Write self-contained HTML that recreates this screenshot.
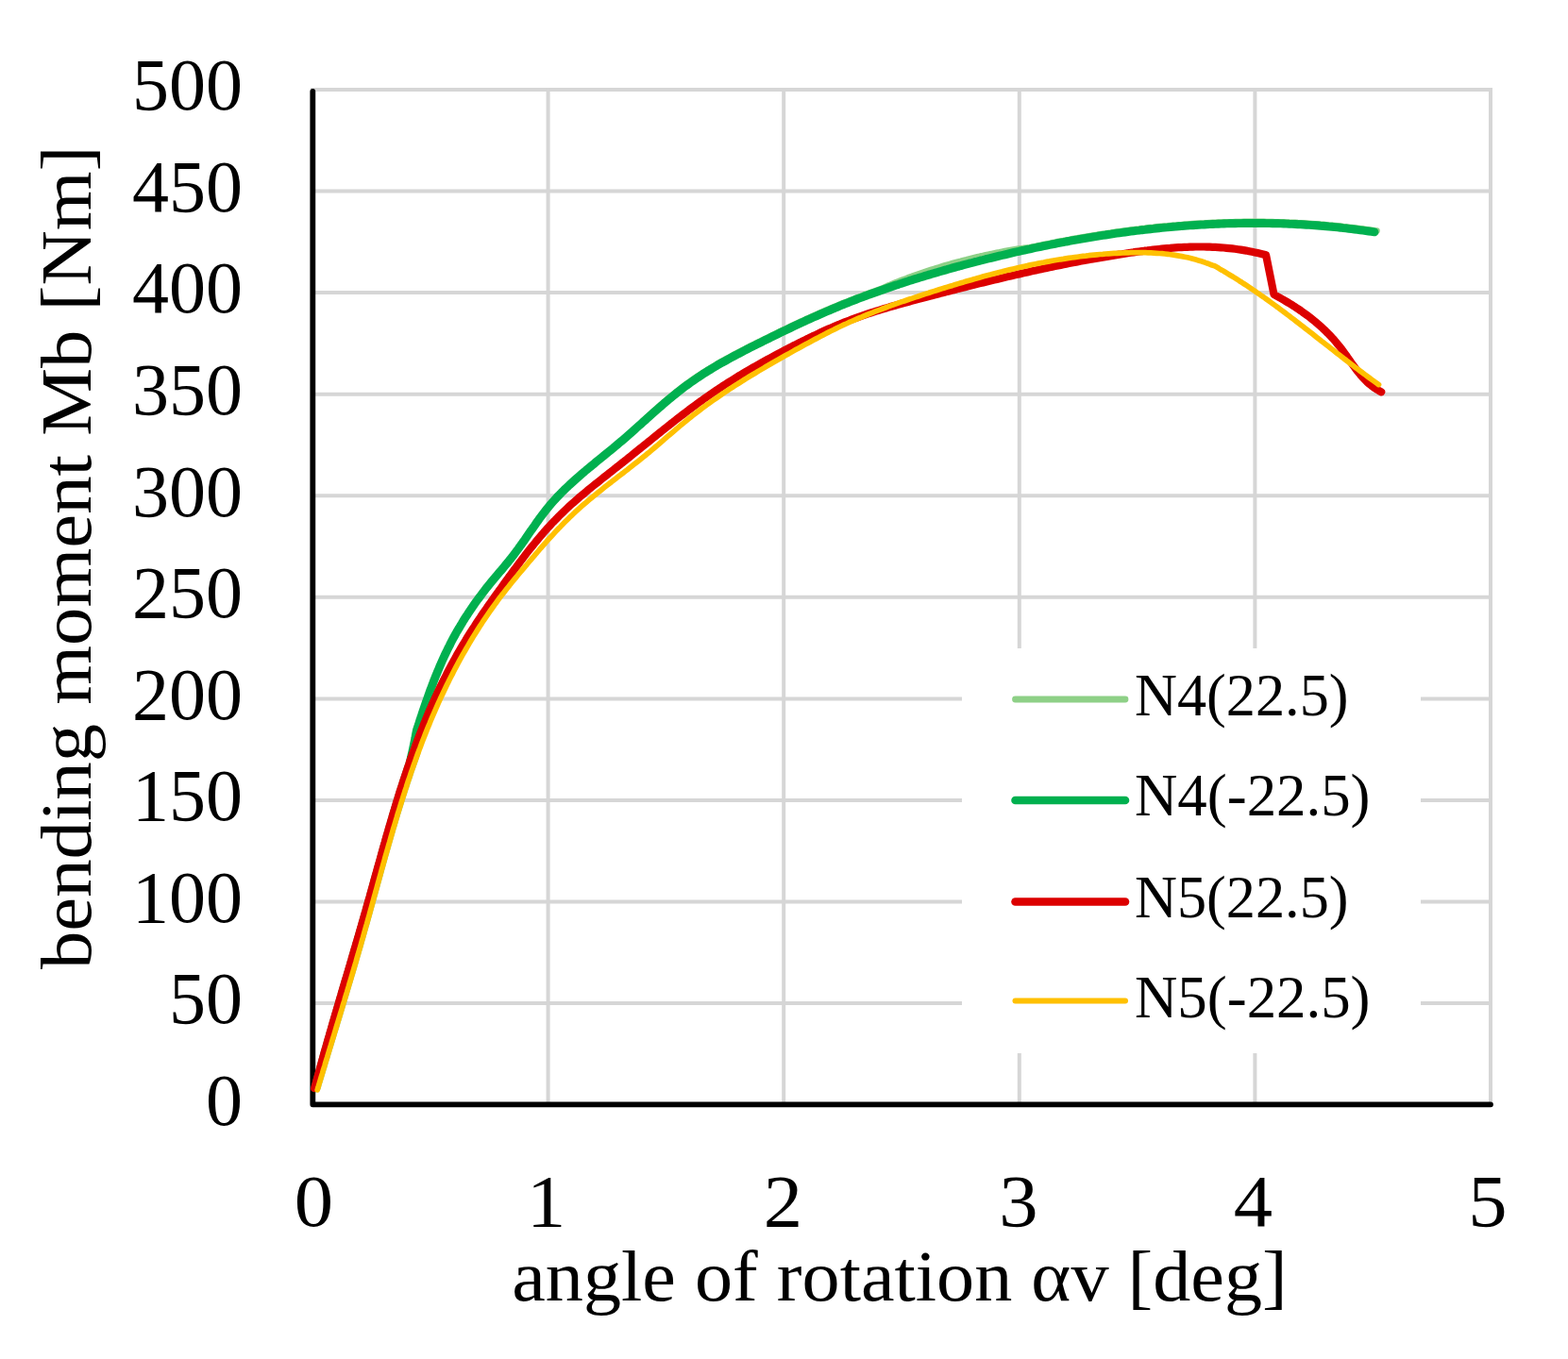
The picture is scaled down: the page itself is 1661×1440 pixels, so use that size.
<!DOCTYPE html>
<html><head><meta charset="utf-8"><title>bending moment chart</title>
<style>
html,body{margin:0;padding:0;background:#fff;}
body{width:1661px;height:1440px;overflow:hidden;}
svg{display:block;}
text{font-family:"Liberation Serif","DejaVu Serif",serif;fill:#000;}
.tk{font-size:78px;}
.lg{font-size:64px;}
.ti{font-size:76px;}
</style></head>
<body>
<svg width="1661" height="1440" viewBox="0 0 1661 1440">
<rect width="1661" height="1440" fill="#fff"/>
<g stroke="#d6d6d6" stroke-width="4" stroke-linecap="square">
<line x1="331.0" y1="95.0" x2="1579.0" y2="95.0"/>
<line x1="331.0" y1="202.6" x2="1579.0" y2="202.6"/>
<line x1="331.0" y1="310.1" x2="1579.0" y2="310.1"/>
<line x1="331.0" y1="417.7" x2="1579.0" y2="417.7"/>
<line x1="331.0" y1="525.2" x2="1579.0" y2="525.2"/>
<line x1="331.0" y1="632.8" x2="1579.0" y2="632.8"/>
<line x1="331.0" y1="740.4" x2="1579.0" y2="740.4"/>
<line x1="331.0" y1="847.9" x2="1579.0" y2="847.9"/>
<line x1="331.0" y1="955.5" x2="1579.0" y2="955.5"/>
<line x1="331.0" y1="1063.0" x2="1579.0" y2="1063.0"/>
<line x1="580.6" y1="95.0" x2="580.6" y2="1170.6"/>
<line x1="830.2" y1="95.0" x2="830.2" y2="1170.6"/>
<line x1="1079.8" y1="95.0" x2="1079.8" y2="1170.6"/>
<line x1="1329.4" y1="95.0" x2="1329.4" y2="1170.6"/>
<line x1="1579.0" y1="95.0" x2="1579.0" y2="1170.6"/>
</g>
<rect x="1019" y="687" width="486" height="429" fill="#fff"/>
<g stroke="#000" stroke-width="5.8" stroke-linecap="round" stroke-linejoin="round" fill="none">
<polyline points="331.3,96.8 331.3,1170.3 1579.0,1170.3"/>
</g>
<g fill="none" stroke-linejoin="round" stroke-linecap="round">
<polyline points="336.3,1152.9 337.1,1150.0 338.0,1147.1 338.9,1144.2 339.8,1141.3 340.6,1138.4 341.5,1135.5 342.4,1132.6 343.3,1129.7 344.1,1126.8 345.0,1123.8 345.9,1120.9 346.8,1118.0 347.7,1115.1 348.5,1112.2 349.4,1109.3 350.3,1106.4 351.2,1103.5 352.1,1100.6 352.9,1097.7 353.8,1094.8 354.7,1092.0 355.6,1089.1 356.5,1086.2 357.3,1083.3 358.2,1080.4 359.1,1077.5 360.0,1074.6 360.8,1071.7 361.7,1068.8 362.6,1065.9 363.5,1063.0 364.3,1060.1 365.2,1057.2 366.1,1054.3 366.9,1051.4 367.8,1048.5 368.7,1045.6 369.5,1042.7 370.4,1039.9 371.2,1037.0 372.1,1034.1 373.0,1031.2 373.8,1028.3 374.7,1025.4 375.5,1022.5 376.4,1019.6 377.2,1016.7 378.0,1013.8 378.9,1010.9 379.7,1008.0 380.6,1005.1 381.4,1002.3 382.2,999.4 383.0,996.5 383.9,993.6 384.7,990.7 385.5,987.8 386.3,984.9 387.1,982.0 388.0,979.1 388.8,976.2 389.6,973.3 390.4,970.4 391.2,967.5 392.0,964.6 392.8,961.7 393.6,958.8 394.4,956.0 395.2,953.1 396.0,950.2 396.8,947.3 397.6,944.4 398.4,941.5 399.2,938.6 400.0,935.7 400.8,932.8 401.6,929.9 402.4,927.0 403.2,924.1 404.0,921.2 404.8,918.3 405.6,915.4 406.4,912.5 407.2,909.6 408.0,906.7 408.8,903.8 409.6,900.9 410.5,898.0 411.3,895.1 412.1,892.2 413.0,889.3 413.8,886.4 414.6,883.5 415.5,880.6 416.3,877.7 417.2,874.8 418.0,871.9 418.9,869.0 419.8,866.1 420.6,863.3 421.5,860.4 422.4,857.5 423.3,854.6 424.2,851.7 425.1,848.8 426.0,845.9 426.9,843.0 427.9,840.1 428.8,837.2 429.7,834.3 430.7,831.5 431.6,828.6 432.6,825.7 433.6,822.8 434.5,819.9 435.5,817.0 436.5,814.2 437.5,811.3 438.6,808.4 439.6,805.5 440.6,802.6 441.6,799.7 442.3,796.9 442.8,794.0 443.4,791.1 443.8,788.2 444.2,785.4 444.5,782.5 444.7,779.6 444.8,776.8 445.0,773.9 445.2,771.0 445.4,768.2 445.6,765.3 445.8,762.4 446.1,759.6 447.0,756.7 448.0,753.8 448.9,751.0 449.9,748.1 450.9,745.3 451.9,742.5 452.9,739.6 453.9,736.8 454.9,733.9 455.9,731.1 457.0,728.3 458.1,725.5 459.1,722.7 460.2,719.9 461.3,717.1 462.5,714.3 463.6,711.5 464.8,708.7 465.9,706.0 467.1,703.2 468.3,700.5 469.6,697.7 470.8,695.0 472.1,692.3 473.4,689.6 474.7,686.9 476.1,684.2 477.4,681.5 478.8,678.8 480.2,676.2 481.7,673.5 483.1,670.9 484.6,668.3 486.2,665.7 487.7,663.1 489.3,660.5 490.8,657.9 492.4,655.3 494.1,652.8 495.7,650.3 497.4,647.8 499.1,645.3 500.8,642.8 502.5,640.3 504.2,637.8 506.0,635.4 507.8,633.0 509.6,630.6 511.4,628.2 513.2,625.8 515.0,623.4 516.9,621.1 518.8,618.7 520.7,616.4 522.6,614.1 524.5,611.8 526.4,609.6 528.3,607.3 530.3,605.1 532.2,602.8 534.1,600.5 536.0,598.2 537.9,596.0 539.7,593.6 541.6,591.3 543.4,589.0 545.2,586.6 547.0,584.2 548.8,581.8 550.5,579.4 552.3,577.0 554.0,574.5 555.8,572.1 557.5,569.6 559.2,567.1 560.9,564.6 562.6,562.1 564.4,559.6 566.1,557.2 567.8,554.7 569.6,552.2 571.3,549.7 573.1,547.3 574.9,544.9 576.8,542.5 578.6,540.1 580.5,537.8 582.4,535.5 584.4,533.2 586.4,530.9 588.4,528.7 590.4,526.5 592.5,524.4 594.6,522.2 596.7,520.1 598.8,518.0 601.0,516.0 603.2,513.9 605.4,511.9 607.6,509.9 609.8,507.9 612.1,505.9 614.4,503.9 616.6,501.9 618.9,500.0 621.2,498.0 623.5,496.1 625.8,494.2 628.2,492.3 630.5,490.3 632.8,488.4 635.2,486.5 637.5,484.6 639.8,482.7 642.2,480.8 644.5,478.9 646.9,477.0 649.2,475.1 651.5,473.1 653.8,471.2 656.2,469.2 658.5,467.3 660.8,465.3 663.1,463.3 665.3,461.4 667.6,459.4 669.9,457.4 672.1,455.4 674.4,453.3 676.6,451.3 678.9,449.3 681.1,445.8 683.4,443.8 685.6,441.8 687.9,439.7 690.1,437.7 692.4,435.7 694.7,433.7 696.9,431.7 699.2,429.7 701.5,427.8 703.7,425.8 706.0,423.9 708.3,421.9 710.6,420.0 712.9,418.1 715.3,416.2 717.6,414.3 720.0,412.5 722.3,410.6 724.7,408.8 727.1,407.0 729.5,405.3 732.0,403.5 734.4,401.8 736.9,400.1 739.4,398.4 741.9,396.8 744.4,395.1 746.9,393.5 749.4,391.9 752.0,390.4 754.6,388.8 757.1,387.3 759.7,385.7 762.3,384.2 764.9,382.7 767.6,381.3 770.2,379.8 772.8,378.4 775.5,376.9 778.1,375.5 780.8,374.1 783.5,372.7 786.1,371.3 788.8,369.9 791.5,368.5 794.2,367.1 796.9,365.8 799.6,364.4 802.3,363.1 805.0,361.7 807.7,360.4 810.4,359.0 813.1,357.7 815.8,356.4 818.5,355.0 821.2,353.7 823.9,352.4 826.6,351.1 829.3,349.8 832.0,348.5 834.7,347.2 837.5,345.9 840.2,344.6 842.9,343.3 845.6,342.0 848.4,340.7 851.1,339.5 853.8,338.2 856.6,337.0 859.3,335.7 862.0,334.5 864.8,333.3 867.5,332.1 870.3,330.9 873.0,329.7 875.8,328.5 878.6,327.3 881.3,326.1 884.1,325.0 886.9,323.8 889.6,322.7 892.4,321.5 895.2,320.4 898.0,319.3 900.8,318.2 903.6,317.1 906.4,316.0 909.2,314.9 912.0,313.9 914.8,312.8 917.6,311.8 920.4,310.7 923.2,309.7 926.1,308.7 928.9,307.7 931.7,306.7 934.5,305.7 937.4,304.3 940.2,303.0 943.1,301.8 945.9,300.6 948.7,299.5 951.6,298.3 954.4,297.2 957.3,296.1 960.2,295.1 963.0,294.0 965.9,293.0 968.7,291.9 971.6,290.9 974.5,289.9 977.4,288.9 980.2,288.0 983.1,287.0 986.0,286.1 988.9,285.2 991.8,284.3 994.7,283.4 997.5,282.5 1000.4,281.6 1003.3,280.8 1006.2,280.0 1009.1,279.1 1012.0,278.3 1014.9,277.5 1017.8,276.8 1020.7,276.0 1023.6,275.3 1026.6,274.5 1029.5,273.8 1032.4,273.1 1035.3,272.4 1038.2,271.7 1041.1,271.1 1044.1,270.4 1047.0,269.8 1049.9,269.2 1052.8,268.5 1055.8,267.9 1058.7,267.4 1061.6,266.8 1064.5,266.2 1067.5,265.7 1070.4,265.2 1073.4,264.7 1076.3,264.2 1079.2,263.7 1082.2,263.3 1085.1,262.9 1088.1,262.6 1091.0,262.3 1093.9,261.6 1096.9,261.0 1099.8,260.4 1102.8,259.8 1105.7,259.2 1108.7,258.6 1111.7,258.0 1114.6,257.4 1117.6,256.8 1120.5,256.2 1123.5,255.6 1126.4,255.1 1129.4,254.5 1132.4,254.0 1135.3,253.4 1138.3,252.9 1141.3,252.4 1144.2,251.8 1147.2,251.3 1150.2,250.8 1153.1,250.3 1156.1,249.8 1159.1,249.3 1162.1,248.9 1165.0,248.4 1168.0,247.9 1171.0,247.5 1174.0,247.0 1176.9,246.6 1179.9,246.1 1182.9,245.7 1185.9,245.3 1188.9,244.9 1191.8,244.5 1194.8,244.1 1197.8,243.7 1200.8,243.3 1203.8,242.9 1206.8,242.6 1209.8,242.2 1212.8,241.9 1215.7,241.5 1218.7,241.2 1221.7,240.9 1224.7,240.5 1227.7,240.2 1230.7,239.9 1233.7,239.6 1236.7,239.4 1239.7,239.1 1242.7,238.8 1245.7,238.6 1248.7,238.3 1251.7,238.1 1254.7,237.8 1257.7,237.6 1260.7,237.4 1263.7,237.2 1266.7,237.0 1269.7,236.8 1272.7,236.6 1275.7,236.5 1278.7,236.3 1281.7,236.1 1284.7,236.0 1287.7,235.9 1290.7,235.7 1293.7,235.6 1296.7,235.5 1299.7,235.4 1302.7,235.3 1305.7,235.3 1308.7,235.2 1311.7,235.1 1314.7,235.1 1317.7,235.0 1320.7,235.0 1323.7,235.0 1326.7,235.0 1329.7,235.0 1332.7,235.0 1335.7,235.0 1338.7,235.0 1341.8,235.1 1344.8,235.1 1347.8,235.2 1350.8,235.3 1353.8,235.3 1356.8,235.4 1359.8,235.5 1362.8,235.6 1365.8,235.8 1368.8,235.9 1371.8,236.0 1374.8,236.2 1377.8,236.3 1380.8,236.5 1383.8,236.7 1386.8,236.9 1389.9,237.1 1392.9,237.3 1395.9,237.5 1398.9,237.8 1401.9,238.0 1404.9,238.3 1407.9,238.6 1410.9,238.8 1413.9,239.1 1416.9,239.4 1419.9,239.7 1422.9,240.1 1425.9,240.4 1428.9,240.8 1431.9,241.1 1434.9,241.5 1437.9,241.9 1440.9,242.3 1443.9,242.7 1446.9,243.1 1449.9,243.5 1452.9,243.9 1455.9,244.4 1458.4,244.7" stroke="#8ed087" stroke-width="6.8"/>
<polyline points="333.9,1152.9 334.6,1150.0 335.4,1147.1 336.2,1144.2 337.0,1141.3 337.8,1138.4 338.6,1135.5 339.4,1132.6 340.2,1129.7 341.0,1126.8 341.8,1123.8 342.6,1120.9 343.4,1118.0 344.2,1115.1 345.1,1112.2 345.9,1109.3 346.7,1106.4 347.5,1103.5 348.4,1100.6 349.2,1097.7 350.0,1094.8 350.9,1092.0 351.7,1089.1 352.6,1086.2 353.4,1083.3 354.2,1080.4 355.1,1077.5 355.9,1074.6 356.8,1071.7 357.6,1068.8 358.5,1065.9 359.3,1063.0 360.2,1060.1 361.0,1057.2 361.9,1054.3 362.7,1051.4 363.6,1048.5 364.4,1045.6 365.3,1042.7 366.1,1039.9 367.0,1037.0 367.9,1034.1 368.7,1031.2 369.6,1028.3 370.4,1025.4 371.3,1022.5 372.1,1019.6 373.0,1016.7 373.8,1013.8 374.7,1010.9 375.5,1008.0 376.4,1005.1 377.2,1002.3 378.1,999.4 378.9,996.5 379.8,993.6 380.6,990.7 381.4,987.8 382.3,984.9 383.1,982.0 384.0,979.1 384.8,976.2 385.6,973.3 386.4,970.4 387.3,967.5 388.1,964.6 388.9,961.7 389.7,958.8 390.6,956.0 391.4,953.1 392.2,950.2 393.0,947.3 393.8,944.4 394.6,941.5 395.4,938.6 396.2,935.7 397.0,932.8 397.8,929.9 398.6,927.0 399.5,924.1 400.3,921.2 401.1,918.3 401.9,915.4 402.7,912.5 403.5,909.6 404.3,906.7 405.1,903.8 405.9,900.9 406.7,898.0 407.6,895.1 408.4,892.2 409.2,889.3 410.0,886.4 410.9,883.5 411.7,880.6 412.5,877.7 413.4,874.8 414.2,871.9 415.1,869.0 415.9,866.1 416.8,863.3 417.6,860.4 418.5,857.5 419.4,854.6 420.2,851.7 421.1,848.8 422.0,845.9 422.9,843.0 423.8,840.1 424.7,837.2 425.6,834.3 426.6,831.5 427.5,828.6 428.4,825.7 429.4,822.8 430.4,819.9 431.3,817.0 432.3,814.2 433.3,811.3 434.1,808.4 434.8,805.5 435.5,802.6 436.1,799.7 436.8,796.9 437.4,794.0 438.0,791.1 438.6,788.2 439.2,785.4 439.8,782.5 440.3,779.6 440.8,776.8 441.4,773.9 442.3,771.0 443.3,768.2 444.2,765.3 445.1,762.4 446.1,759.6 447.0,756.7 448.0,753.8 448.9,751.0 449.9,748.1 450.9,745.3 451.9,742.5 452.9,739.6 453.9,736.8 454.9,733.9 455.9,731.1 457.0,728.3 458.1,725.5 459.1,722.7 460.2,719.9 461.3,717.1 462.5,714.3 463.6,711.5 464.8,708.7 465.9,706.0 467.1,703.2 468.3,700.5 469.6,697.7 470.8,695.0 472.1,692.3 473.4,689.6 474.7,686.9 476.1,684.2 477.4,681.5 478.8,678.8 480.2,676.2 481.7,673.5 483.1,670.9 484.6,668.3 486.2,665.7 487.7,663.1 489.3,660.5 490.8,657.9 492.4,655.3 494.1,652.8 495.7,650.3 497.4,647.8 499.1,645.3 500.8,642.8 502.5,640.3 504.2,637.8 506.0,635.4 507.8,633.0 509.6,630.6 511.4,628.2 513.2,625.8 515.0,623.4 516.9,621.1 518.8,618.7 520.7,616.4 522.6,614.1 524.5,611.8 526.4,609.6 528.3,607.3 530.3,605.1 532.2,602.8 534.1,600.5 536.0,598.2 537.9,596.0 539.7,593.6 541.6,591.3 543.4,589.0 545.2,586.6 547.0,584.2 548.8,581.8 550.5,579.4 552.3,577.0 554.0,574.5 555.8,572.1 557.5,569.6 559.2,567.1 560.9,564.6 562.6,562.1 564.4,559.6 566.1,557.2 567.8,554.7 569.6,552.2 571.3,549.7 573.1,547.3 574.9,544.9 576.8,542.5 578.6,540.1 580.5,537.8 582.4,535.5 584.4,533.2 586.4,530.9 588.4,528.7 590.4,526.5 592.5,524.4 594.6,522.2 596.7,520.1 598.8,518.0 601.0,516.0 603.2,513.9 605.4,511.9 607.6,509.9 609.8,507.9 612.1,505.9 614.4,503.9 616.6,501.9 618.9,500.0 621.2,498.0 623.5,496.1 625.8,494.2 628.2,492.3 630.5,490.3 632.8,488.4 635.2,486.5 637.5,484.6 639.8,482.7 642.2,480.8 644.5,478.9 646.9,477.0 649.2,475.1 651.5,473.1 653.8,471.2 656.2,469.2 658.5,467.3 660.8,465.3 663.1,463.3 665.3,461.4 667.6,459.4 669.9,457.4 672.1,455.4 674.4,453.3 676.6,451.3 678.9,449.3 681.1,447.3 683.4,445.3 685.6,443.3 687.9,441.2 690.1,439.2 692.4,437.2 694.7,435.2 696.9,433.2 699.2,431.2 701.5,429.3 703.7,427.3 706.0,425.4 708.3,423.4 710.6,421.5 712.9,419.6 715.3,417.7 717.6,415.8 720.0,414.0 722.3,412.1 724.7,410.3 727.1,408.5 729.5,406.8 732.0,405.0 734.4,403.3 736.9,401.6 739.4,399.9 741.9,398.3 744.4,396.6 746.9,395.0 749.4,393.4 752.0,391.9 754.6,390.3 757.1,388.8 759.7,387.2 762.3,385.7 764.9,384.2 767.6,382.8 770.2,381.3 772.8,379.9 775.5,378.4 778.1,377.0 780.8,375.6 783.5,374.2 786.1,372.8 788.8,371.4 791.5,370.0 794.2,368.6 796.9,367.3 799.6,365.9 802.3,364.6 805.0,363.2 807.7,361.9 810.4,360.5 813.1,359.2 815.8,357.9 818.5,356.5 821.2,355.2 823.9,353.9 826.6,352.6 829.3,351.3 832.0,350.0 834.7,348.7 837.5,347.4 840.2,346.1 842.9,344.8 845.6,343.5 848.4,342.2 851.1,341.0 853.8,339.7 856.6,338.5 859.3,337.2 862.0,336.0 864.8,334.8 867.5,333.6 870.3,332.4 873.0,331.2 875.8,330.0 878.6,328.8 881.3,327.6 884.1,326.5 886.9,325.3 889.6,324.2 892.4,323.0 895.2,321.9 898.0,320.8 900.8,319.7 903.6,318.6 906.4,317.5 909.2,316.4 912.0,315.4 914.8,314.3 917.6,313.3 920.4,312.2 923.2,311.2 926.1,310.2 928.9,309.2 931.7,308.2 934.5,307.2 937.4,306.2 940.2,305.2 943.1,304.2 945.9,303.3 948.7,302.3 951.6,301.4 954.4,300.4 957.3,299.5 960.2,298.6 963.0,297.6 965.9,296.7 968.7,295.8 971.6,294.9 974.5,294.0 977.4,293.2 980.2,292.3 983.1,291.4 986.0,290.6 988.9,289.7 991.8,288.9 994.7,288.0 997.5,287.2 1000.4,286.4 1003.3,285.6 1006.2,284.7 1009.1,283.9 1012.0,283.1 1014.9,282.3 1017.8,281.6 1020.7,280.8 1023.6,280.0 1026.6,279.2 1029.5,278.5 1032.4,277.7 1035.3,277.0 1038.2,276.2 1041.1,275.5 1044.1,274.7 1047.0,274.0 1049.9,273.3 1052.8,272.6 1055.8,271.9 1058.7,271.2 1061.6,270.5 1064.5,269.8 1067.5,269.1 1070.4,268.4 1073.4,267.7 1076.3,267.0 1079.2,266.4 1082.2,265.7 1085.1,265.1 1088.1,264.4 1091.0,263.8 1093.9,263.1 1096.9,262.5 1099.8,261.9 1102.8,261.3 1105.7,260.7 1108.7,260.1 1111.7,259.5 1114.6,258.9 1117.6,258.3 1120.5,257.7 1123.5,257.1 1126.4,256.6 1129.4,256.0 1132.4,255.5 1135.3,254.9 1138.3,254.4 1141.3,253.9 1144.2,253.3 1147.2,252.8 1150.2,252.3 1153.1,251.8 1156.1,251.3 1159.1,250.8 1162.1,250.4 1165.0,249.9 1168.0,249.4 1171.0,249.0 1174.0,248.5 1176.9,248.1 1179.9,247.6 1182.9,247.2 1185.9,246.8 1188.9,246.4 1191.8,246.0 1194.8,245.6 1197.8,245.2 1200.8,244.8 1203.8,244.4 1206.8,244.1 1209.8,243.7 1212.8,243.4 1215.7,243.0 1218.7,242.7 1221.7,242.4 1224.7,242.0 1227.7,241.7 1230.7,241.4 1233.7,241.1 1236.7,240.9 1239.7,240.6 1242.7,240.3 1245.7,240.1 1248.7,239.8 1251.7,239.6 1254.7,239.3 1257.7,239.1 1260.7,238.9 1263.7,238.7 1266.7,238.5 1269.7,238.3 1272.7,238.1 1275.7,238.0 1278.7,237.8 1281.7,237.6 1284.7,237.5 1287.7,237.4 1290.7,237.2 1293.7,237.1 1296.7,237.0 1299.7,236.9 1302.7,236.8 1305.7,236.8 1308.7,236.7 1311.7,236.6 1314.7,236.6 1317.7,236.5 1320.7,236.5 1323.7,236.5 1326.7,236.5 1329.7,236.5 1332.7,236.5 1335.7,236.5 1338.7,236.5 1341.8,236.6 1344.8,236.6 1347.8,236.7 1350.8,236.8 1353.8,236.8 1356.8,236.9 1359.8,237.0 1362.8,237.1 1365.8,237.3 1368.8,237.4 1371.8,237.5 1374.8,237.7 1377.8,237.8 1380.8,238.0 1383.8,238.2 1386.8,238.4 1389.9,238.6 1392.9,238.8 1395.9,239.0 1398.9,239.3 1401.9,239.5 1404.9,239.8 1407.9,240.1 1410.9,240.3 1413.9,240.6 1416.9,240.9 1419.9,241.2 1422.9,241.6 1425.9,241.9 1428.9,242.3 1431.9,242.6 1434.9,243.0 1437.9,243.4 1440.9,243.8 1443.9,244.2 1446.9,244.6 1449.9,245.0 1452.9,245.4 1455.9,245.9" stroke="#00b04f" stroke-width="8.9"/>
<polyline points="333.2,1153.0 334.0,1150.1 334.8,1147.1 335.6,1144.2 336.4,1141.3 337.2,1138.4 338.0,1135.5 338.8,1132.6 339.6,1129.7 340.4,1126.8 341.2,1123.9 342.0,1121.0 342.8,1118.1 343.6,1115.2 344.4,1112.3 345.3,1109.4 346.1,1106.5 346.9,1103.7 347.7,1100.8 348.6,1097.9 349.4,1095.0 350.2,1092.1 351.1,1089.2 351.9,1086.3 352.7,1083.4 353.6,1080.5 354.4,1077.7 355.3,1074.8 356.1,1071.9 357.0,1069.0 357.8,1066.1 358.7,1063.2 359.5,1060.4 360.3,1057.5 361.2,1054.6 362.0,1051.7 362.9,1048.8 363.7,1045.9 364.6,1043.1 365.4,1040.2 366.3,1037.3 367.2,1034.4 368.0,1031.5 368.9,1028.6 369.7,1025.8 370.6,1022.9 371.4,1020.0 372.3,1017.1 373.1,1014.2 374.0,1011.3 374.8,1008.5 375.6,1005.6 376.5,1002.7 377.3,999.8 378.2,996.9 379.0,994.0 379.9,991.1 380.7,988.3 381.5,985.4 382.4,982.5 383.2,979.6 384.0,976.7 384.9,973.8 385.7,970.9 386.5,968.0 387.4,965.1 388.2,962.2 389.0,959.3 389.8,956.4 390.6,953.5 391.5,950.6 392.3,947.7 393.1,944.8 393.9,941.9 394.7,939.0 395.5,936.1 396.3,933.2 397.1,930.3 397.9,927.4 398.7,924.5 399.5,921.6 400.3,918.7 401.2,915.8 402.0,912.9 402.8,910.0 403.6,907.1 404.4,904.2 405.2,901.3 406.0,898.4 406.8,895.5 407.7,892.6 408.5,889.7 409.3,886.8 410.1,883.9 411.0,881.0 411.8,878.2 412.6,875.3 413.5,872.4 414.3,869.5 415.2,866.6 416.0,863.7 416.9,860.8 417.8,857.9 418.6,855.1 419.5,852.2 420.4,849.3 421.3,846.4 422.1,843.6 423.0,840.7 423.9,837.8 424.9,835.0 425.8,832.1 426.7,829.2 427.6,826.4 428.6,823.5 429.5,820.7 430.5,817.8 431.4,815.0 432.4,812.1 433.4,809.3 434.3,806.4 435.3,803.6 436.3,800.8 437.3,798.0 438.4,795.1 439.4,792.3 440.4,789.5 441.5,786.7 442.5,783.9 443.6,781.1 444.7,778.3 445.8,775.5 446.9,772.7 448.0,769.9 449.1,767.1 450.3,764.3 451.4,761.5 452.6,758.7 453.7,756.0 454.9,753.2 456.1,750.5 457.3,747.7 458.5,745.0 459.8,742.2 461.0,739.5 462.3,736.7 463.5,734.0 464.8,731.3 466.1,728.6 467.4,725.9 468.7,723.2 470.1,720.5 471.4,717.8 472.8,715.1 474.1,712.4 475.5,709.8 476.9,707.1 478.3,704.5 479.8,701.8 481.2,699.2 482.7,696.6 484.1,693.9 485.6,691.3 487.1,688.7 488.6,686.1 490.2,683.5 491.7,681.0 493.3,678.4 494.8,675.8 496.4,673.3 498.0,670.7 499.6,668.2 501.2,665.7 502.9,663.2 504.5,660.6 506.2,658.1 507.9,655.6 509.5,653.1 511.2,650.6 512.9,648.2 514.6,645.7 516.3,643.2 518.1,640.7 519.8,638.3 521.5,635.8 523.3,633.4 525.0,630.9 526.8,628.4 528.5,626.0 530.3,623.6 532.1,621.1 533.8,618.7 535.6,616.2 537.4,613.8 539.1,611.3 540.9,608.9 542.7,606.5 544.5,604.0 546.3,601.6 548.1,599.2 549.9,596.8 551.7,594.4 553.5,592.0 555.3,589.6 557.1,587.2 559.0,584.8 560.8,582.5 562.7,580.1 564.6,577.8 566.5,575.5 568.4,573.1 570.3,570.8 572.2,568.6 574.2,566.3 576.1,564.0 578.1,561.8 580.1,559.6 582.1,557.4 584.1,555.2 586.2,553.0 588.3,550.9 590.3,548.8 592.4,546.6 594.6,544.5 596.7,542.5 598.9,540.4 601.0,538.4 603.2,536.3 605.4,534.3 607.7,532.3 609.9,530.4 612.2,528.4 614.4,526.4 616.7,524.5 619.0,522.6 621.3,520.7 623.6,518.7 625.9,516.8 628.3,514.9 630.6,513.1 633.0,511.2 635.3,509.3 637.7,507.4 640.0,505.6 642.4,503.7 644.7,501.8 647.1,500.0 649.5,498.1 651.8,496.2 654.2,494.4 656.6,492.5 658.9,490.6 661.3,488.8 663.7,486.9 666.0,485.0 668.4,483.1 670.7,481.2 673.1,479.3 675.4,477.4 677.7,475.5 680.1,473.6 682.4,471.8 684.8,469.9 687.1,468.0 689.5,466.1 691.8,464.2 694.2,462.3 696.5,460.4 698.8,458.5 701.2,456.6 703.5,454.8 705.9,452.9 708.3,451.0 710.6,449.1 713.0,447.3 715.4,445.4 717.7,443.6 720.1,441.7 722.5,439.9 724.9,438.1 727.3,436.3 729.7,434.4 732.1,432.6 734.5,430.8 736.9,429.1 739.3,427.3 741.7,425.5 744.2,423.8 746.6,422.0 749.1,420.3 751.5,418.6 754.0,416.9 756.5,415.2 759.0,413.5 761.5,411.8 764.0,410.2 766.5,408.5 769.0,406.9 771.5,405.3 774.1,403.7 776.6,402.1 779.2,400.5 781.7,398.9 784.3,397.4 786.9,395.8 789.4,394.3 792.0,392.8 794.6,391.3 797.2,389.7 799.8,388.3 802.5,386.8 805.1,385.3 807.7,383.8 810.3,382.4 813.0,380.9 815.6,379.5 818.3,378.0 820.9,376.6 823.6,375.2 826.2,373.8 828.9,372.4 831.6,371.0 834.2,369.6 836.9,368.2 839.6,366.8 842.3,365.5 844.9,364.1 847.6,362.8 850.3,361.4 853.0,360.1 855.7,358.8 858.4,357.4 861.1,356.1 863.9,354.9 866.6,353.6 869.3,352.3 872.0,351.1 874.8,349.8 877.5,348.6 880.3,347.4 883.0,346.2 885.8,345.0 888.6,343.9 891.3,342.7 894.1,341.6 896.9,340.5 899.7,339.5 902.5,338.4 905.3,337.4 908.2,336.3 911.0,335.3 913.8,334.4 916.7,333.4 919.5,332.4 922.4,331.5 925.2,330.6 928.1,329.7 930.9,328.8 933.8,327.9 936.7,327.0 939.6,326.2 942.4,325.3 945.3,324.5 948.2,323.7 951.1,322.9 954.0,322.0 956.9,321.2 959.8,320.5 962.7,319.7 965.6,318.9 968.5,318.1 971.4,317.3 974.3,316.6 977.3,315.8 980.2,315.0 983.1,314.2 986.0,313.5 988.9,312.7 991.8,312.0 994.7,311.2 997.6,310.4 1000.5,309.7 1003.5,308.9 1006.4,308.2 1009.3,307.4 1012.2,306.7 1015.1,305.9 1018.0,305.2 1021.0,304.5 1023.9,303.7 1026.8,303.0 1029.7,302.3 1032.6,301.5 1035.5,300.8 1038.5,300.1 1041.4,299.4 1044.3,298.7 1047.2,298.0 1050.2,297.3 1053.1,296.6 1056.0,295.9 1058.9,295.2 1061.9,294.5 1064.8,293.8 1067.7,293.1 1070.6,292.4 1073.6,291.7 1076.5,291.1 1079.4,290.4 1082.4,289.7 1085.3,289.1 1088.2,288.4 1091.2,287.7 1094.1,287.1 1097.1,286.5 1100.0,285.8 1102.9,285.2 1105.9,284.6 1108.8,283.9 1111.8,283.3 1114.7,282.7 1117.6,282.1 1120.6,281.5 1123.5,280.9 1126.5,280.3 1129.4,279.7 1132.4,279.1 1135.3,278.5 1138.3,278.0 1141.2,277.4 1144.2,276.8 1147.2,276.3 1150.1,275.7 1153.1,275.2 1156.0,274.6 1159.0,274.1 1162.0,273.6 1164.9,273.1 1167.9,272.6 1170.9,272.1 1173.8,271.6 1176.8,271.1 1179.8,270.6 1182.7,270.1 1185.7,269.6 1188.7,269.2 1191.7,268.7 1194.6,268.2 1197.6,267.8 1200.6,267.4 1203.6,266.9 1206.6,266.5 1209.6,266.1 1212.5,265.7 1215.5,265.4 1218.5,265.0 1221.5,264.6 1224.5,264.3 1227.5,264.0 1230.5,263.7 1233.5,263.4 1236.5,263.1 1239.5,262.9 1242.5,262.6 1245.4,262.4 1248.4,262.2 1251.4,262.1 1254.4,261.9 1257.4,261.8 1260.4,261.7 1263.4,261.6 1266.4,261.5 1269.4,261.5 1272.4,261.5 1275.4,261.5 1278.4,261.6 1281.4,261.7 1284.4,261.8 1287.4,261.9 1290.4,262.1 1293.3,262.3 1296.3,262.5 1299.3,262.8 1302.3,263.1 1305.3,263.4 1308.3,263.8 1311.3,264.2 1314.3,264.6 1317.3,265.1 1320.2,265.6 1323.2,266.2 1326.2,266.8 1329.2,267.4 1332.2,268.1 1335.1,268.8 1338.1,269.5 1341.1,270.3 1349.5,312.0 1352.1,313.5 1354.8,315.0 1357.5,316.5 1360.1,318.0 1362.8,319.6 1365.4,321.1 1368.1,322.8 1370.7,324.4 1373.2,326.1 1375.8,327.8 1378.3,329.5 1380.8,331.3 1383.3,333.1 1385.8,334.9 1388.2,336.8 1390.6,338.7 1393.0,340.6 1395.3,342.6 1397.6,344.6 1399.9,346.6 1402.1,348.7 1404.3,350.8 1406.5,353.0 1408.6,355.2 1410.7,357.4 1412.7,359.6 1414.7,361.9 1416.7,364.3 1418.6,366.6 1420.5,369.0 1422.3,371.5 1424.1,373.9 1425.9,376.4 1427.6,378.9 1429.4,381.4 1431.1,383.9 1432.9,386.4 1434.7,388.8 1436.5,391.3 1438.3,393.7 1440.2,396.0 1442.1,398.3 1444.1,400.5 1446.2,402.7 1448.3,404.8 1450.6,406.8 1452.9,408.7 1455.3,410.5 1457.8,412.2 1460.5,413.8 1463.2,415.3" stroke="#dc0000" stroke-width="8.2"/>
<polyline points="336.2,1154.8 337.1,1151.9 337.9,1149.0 338.8,1146.2 339.6,1143.3 340.5,1140.4 341.4,1137.6 342.2,1134.7 343.1,1131.8 344.0,1129.0 344.8,1126.1 345.7,1123.2 346.6,1120.3 347.4,1117.5 348.3,1114.6 349.2,1111.7 350.1,1108.9 350.9,1106.0 351.8,1103.1 352.7,1100.2 353.6,1097.4 354.4,1094.5 355.3,1091.6 356.2,1088.7 357.0,1085.9 357.9,1083.0 358.8,1080.1 359.7,1077.2 360.5,1074.4 361.4,1071.5 362.3,1068.6 363.1,1065.7 364.0,1062.9 364.9,1060.0 365.7,1057.1 366.6,1054.2 367.5,1051.3 368.3,1048.5 369.2,1045.6 370.0,1042.7 370.9,1039.8 371.8,1036.9 372.6,1034.0 373.5,1031.2 374.3,1028.3 375.2,1025.4 376.0,1022.5 376.9,1019.6 377.7,1016.7 378.5,1013.8 379.4,1010.9 380.2,1008.0 381.1,1005.2 381.9,1002.3 382.7,999.4 383.5,996.5 384.4,993.6 385.2,990.7 386.0,987.8 386.8,984.9 387.6,982.0 388.5,979.1 389.3,976.2 390.1,973.3 390.9,970.4 391.7,967.5 392.5,964.6 393.3,961.7 394.1,958.8 394.9,955.9 395.7,953.0 396.5,950.1 397.3,947.2 398.1,944.3 398.9,941.4 399.7,938.5 400.5,935.6 401.3,932.7 402.1,929.8 402.9,926.9 403.7,924.0 404.5,921.1 405.3,918.2 406.1,915.3 406.9,912.4 407.7,909.5 408.5,906.6 409.4,903.7 410.2,900.8 411.0,897.9 411.8,895.0 412.7,892.1 413.5,889.2 414.3,886.3 415.2,883.4 416.0,880.5 416.8,877.6 417.7,874.8 418.6,871.9 419.4,869.0 420.3,866.1 421.1,863.2 422.0,860.4 422.9,857.5 423.8,854.6 424.7,851.7 425.6,848.9 426.5,846.0 427.4,843.1 428.3,840.3 429.2,837.4 430.2,834.6 431.1,831.7 432.0,828.8 433.0,826.0 434.0,823.1 434.9,820.3 435.9,817.4 436.9,814.6 437.9,811.8 438.9,808.9 439.9,806.1 440.9,803.3 441.9,800.4 443.0,797.6 444.0,794.8 445.1,792.0 446.1,789.2 447.2,786.3 448.3,783.5 449.4,780.7 450.5,777.9 451.6,775.1 452.7,772.3 453.8,769.6 455.0,766.8 456.1,764.0 457.3,761.2 458.5,758.4 459.7,755.7 460.9,752.9 462.1,750.2 463.3,747.4 464.5,744.7 465.8,741.9 467.0,739.2 468.3,736.5 469.6,733.7 470.9,731.0 472.2,728.3 473.5,725.6 474.8,722.9 476.1,720.2 477.5,717.5 478.9,714.9 480.2,712.2 481.6,709.5 483.0,706.9 484.4,704.2 485.8,701.6 487.3,698.9 488.7,696.3 490.2,693.7 491.7,691.1 493.2,688.5 494.7,685.9 496.2,683.3 497.7,680.7 499.3,678.1 500.8,675.5 502.4,673.0 504.0,670.4 505.6,667.9 507.2,665.4 508.8,662.8 510.5,660.3 512.1,657.8 513.8,655.3 515.5,652.9 517.2,650.4 518.9,647.9 520.6,645.5 522.4,643.0 524.1,640.6 525.9,638.2 527.7,635.7 529.5,633.3 531.3,630.9 533.2,628.6 535.0,626.2 536.9,623.8 538.8,621.5 540.6,619.1 542.5,616.8 544.5,614.4 546.4,612.1 548.3,609.8 550.2,607.5 552.2,605.2 554.1,602.9 556.0,600.6 558.0,598.3 559.9,596.0 561.9,593.7 563.8,591.4 565.8,589.1 567.7,586.8 569.7,584.5 571.6,582.2 573.6,580.0 575.6,577.7 577.6,575.5 579.5,573.2 581.5,571.0 583.6,568.8 585.6,566.6 587.6,564.4 589.6,562.2 591.7,560.0 593.8,557.9 595.9,555.7 598.0,553.6 600.1,551.5 602.2,549.4 604.3,547.3 606.5,545.3 608.7,543.2 610.9,541.2 613.1,539.2 615.3,537.2 617.5,535.2 619.8,533.3 622.1,531.3 624.4,529.4 626.7,527.5 629.0,525.6 631.3,523.7 633.6,521.8 636.0,519.9 638.3,518.0 640.7,516.1 643.0,514.3 645.4,512.4 647.8,510.6 650.2,508.7 652.5,506.9 654.9,505.0 657.3,503.2 659.7,501.4 662.1,499.5 664.5,497.7 666.9,495.8 669.2,494.0 671.6,492.1 674.0,490.2 676.3,488.4 678.7,486.5 681.1,484.6 683.4,482.7 685.7,480.8 688.1,478.9 690.4,476.9 692.7,475.0 695.0,473.0 697.3,471.1 699.6,469.1 701.9,467.1 704.1,465.2 706.4,463.2 708.7,461.2 711.0,459.3 713.3,457.3 715.6,455.3 717.9,453.4 720.2,451.4 722.5,449.5 724.8,447.6 727.1,445.7 729.4,443.8 731.8,441.9 734.1,440.1 736.5,438.2 738.8,436.4 741.2,434.6 743.6,432.8 746.0,431.0 748.4,429.2 750.9,427.5 753.3,425.7 755.7,424.0 758.2,422.3 760.7,420.6 763.1,418.9 765.6,417.2 768.1,415.5 770.6,413.8 773.1,412.2 775.6,410.6 778.1,408.9 780.6,407.3 783.2,405.7 785.7,404.1 788.2,402.5 790.8,400.9 793.4,399.3 795.9,397.8 798.5,396.2 801.1,394.7 803.6,393.1 806.2,391.6 808.8,390.1 811.4,388.5 814.0,387.0 816.6,385.5 819.2,384.0 821.8,382.5 824.5,381.0 827.1,379.5 829.7,378.0 832.3,376.5 835.0,375.1 837.6,373.6 840.2,372.1 842.9,370.6 845.5,369.2 848.2,367.7 850.8,366.2 853.5,364.8 856.1,363.4 858.8,361.9 861.4,360.5 864.1,359.1 866.8,357.7 869.5,356.3 872.1,354.9 874.8,353.5 877.5,352.1 880.2,350.8 882.9,349.5 885.6,348.1 888.3,346.8 891.0,345.5 893.8,344.2 896.5,343.0 899.2,341.7 902.0,340.5 904.7,339.3 907.4,338.1 910.2,336.9 913.0,335.8 915.7,334.6 918.5,333.5 921.3,332.4 924.1,331.3 926.8,330.2 929.6,329.1 932.4,328.1 935.2,327.0 938.0,326.0 940.8,324.9 943.6,323.9 946.5,322.9 949.3,321.9 952.1,320.9 954.9,319.9 957.8,319.0 960.6,318.0 963.4,317.0 966.3,316.1 969.1,315.1 972.0,314.2 974.8,313.2 977.7,312.3 980.5,311.4 983.4,310.5 986.2,309.5 989.1,308.6 992.0,307.7 994.9,306.8 997.7,305.9 1000.6,305.0 1003.5,304.1 1006.4,303.2 1009.2,302.4 1012.1,301.5 1015.0,300.6 1017.9,299.7 1020.8,298.9 1023.7,298.0 1026.6,297.2 1029.5,296.4 1032.4,295.6 1035.3,294.7 1038.2,293.9 1041.1,293.1 1044.0,292.3 1047.0,291.5 1049.9,290.8 1052.8,290.0 1055.7,289.2 1058.6,288.5 1061.6,287.8 1064.5,287.0 1067.4,286.3 1070.4,285.6 1073.3,284.9 1076.2,284.2 1079.2,283.5 1082.1,282.9 1085.1,282.2 1088.0,281.6 1091.0,280.9 1093.9,280.3 1096.9,279.7 1099.8,279.1 1102.8,278.5 1105.7,278.0 1108.7,277.4 1111.6,276.9 1114.6,276.3 1117.6,275.8 1120.5,275.3 1123.5,274.8 1126.5,274.4 1129.4,273.9 1132.4,273.4 1135.4,273.0 1138.4,272.6 1141.3,272.2 1144.3,271.8 1147.3,271.4 1150.3,271.1 1153.3,270.7 1156.3,270.4 1159.2,270.1 1162.2,269.8 1165.2,269.5 1168.2,269.3 1171.2,269.0 1174.2,268.8 1177.2,268.6 1180.2,268.4 1183.2,268.3 1186.2,268.1 1189.2,268.0 1192.2,267.9 1195.2,267.8 1198.2,267.7 1201.2,267.7 1204.2,267.6 1207.2,267.6 1210.2,267.7 1213.2,267.7 1216.2,267.8 1219.2,267.9 1222.2,268.1 1225.2,268.3 1228.2,268.5 1231.2,268.7 1234.1,269.0 1237.1,269.3 1240.1,269.7 1243.1,270.1 1246.0,270.6 1249.0,271.1 1252.0,271.6 1254.9,272.2 1257.8,272.8 1260.8,273.5 1263.7,274.3 1266.6,275.1 1269.5,275.9 1272.5,276.8 1275.3,277.7 1278.2,278.8 1281.1,279.8 1284.0,281.0 1286.7,281.8 1289.4,283.3 1292.0,284.9 1294.7,286.4 1297.4,288.0 1300.0,289.6 1302.6,291.2 1305.2,292.8 1307.9,294.4 1310.5,296.0 1313.0,297.7 1315.6,299.3 1318.2,301.0 1320.8,302.7 1323.3,304.4 1325.9,306.1 1328.4,307.8 1330.9,309.6 1333.5,311.3 1336.0,313.1 1338.5,314.8 1341.0,316.6 1343.5,318.4 1346.0,320.2 1348.4,322.0 1350.9,323.8 1353.4,325.6 1355.9,327.5 1358.3,329.3 1360.8,331.1 1363.2,333.0 1365.7,334.8 1368.1,336.7 1370.6,338.5 1373.0,340.4 1375.4,342.3 1377.9,344.2 1380.3,346.0 1382.7,347.9 1385.1,349.8 1387.6,351.7 1390.0,353.6 1392.4,355.5 1394.8,357.4 1397.2,359.3 1399.6,361.2 1402.0,363.0 1404.5,364.9 1406.9,366.8 1409.3,368.7 1411.7,370.6 1414.1,372.5 1416.5,374.4 1419.0,376.3 1421.4,378.2 1423.8,380.1 1426.2,381.9 1428.6,383.8 1431.1,385.7 1433.5,387.5 1435.9,389.4 1438.4,391.3 1440.8,393.1 1443.3,394.9 1445.7,396.8 1448.2,398.6 1450.6,400.4 1453.1,402.2 1455.6,404.0 1458.0,405.8 1460.5,407.6" stroke="#ffc000" stroke-width="5.7"/>
</g>
<g class="tk">
<text x="257" y="116.3" text-anchor="end">500</text>
<text x="257" y="223.9" text-anchor="end">450</text>
<text x="257" y="331.4" text-anchor="end">400</text>
<text x="257" y="439.0" text-anchor="end">350</text>
<text x="257" y="546.5" text-anchor="end">300</text>
<text x="257" y="654.1" text-anchor="end">250</text>
<text x="257" y="761.7" text-anchor="end">200</text>
<text x="257" y="869.2" text-anchor="end">150</text>
<text x="257" y="976.8" text-anchor="end">100</text>
<text x="257" y="1084.3" text-anchor="end">50</text>
<text x="257" y="1191.9" text-anchor="end">0</text>
<text transform="translate(332.3,1299) scale(1.06,1)" text-anchor="middle">0</text>
<text transform="translate(578.6,1299) scale(1.06,1)" text-anchor="middle">1</text>
<text transform="translate(829.5,1299) scale(1.06,1)" text-anchor="middle">2</text>
<text transform="translate(1079.0,1299) scale(1.06,1)" text-anchor="middle">3</text>
<text transform="translate(1327.4,1299) scale(1.06,1)" text-anchor="middle">4</text>
<text transform="translate(1576.0,1299) scale(1.06,1)" text-anchor="middle">5</text>
</g>
<line x1="1075.5" y1="741" x2="1192" y2="741" stroke="#8ed087" stroke-width="6.8" stroke-linecap="round"/>
<text transform="translate(1202,757.7) scale(0.973,1)" x="0" y="0" class="lg">N4(22.5)</text>
<line x1="1075.5" y1="848" x2="1192" y2="848" stroke="#00b04f" stroke-width="8.6" stroke-linecap="round"/>
<text transform="translate(1202,864.2) scale(0.982,1)" x="0" y="0" class="lg">N4(-22.5)</text>
<line x1="1075.5" y1="955.5" x2="1192" y2="955.5" stroke="#dc0000" stroke-width="8.6" stroke-linecap="round"/>
<text transform="translate(1202,971.8) scale(0.973,1)" x="0" y="0" class="lg">N5(22.5)</text>
<line x1="1075.5" y1="1060.5" x2="1192" y2="1060.5" stroke="#ffc000" stroke-width="6.0" stroke-linecap="round"/>
<text transform="translate(1202,1078.2) scale(0.982,1)" x="0" y="0" class="lg">N5(-22.5)</text>
<text class="ti" transform="translate(953,1378) scale(1.0555,1)" x="0" y="0" text-anchor="middle">angle of rotation αv [deg]</text>
<text class="ti" transform="translate(96.3,590.8) rotate(-90) scale(1.0627,1)" x="0" y="0" text-anchor="middle">bending moment Mb [Nm]</text>
</svg>
</body></html>
